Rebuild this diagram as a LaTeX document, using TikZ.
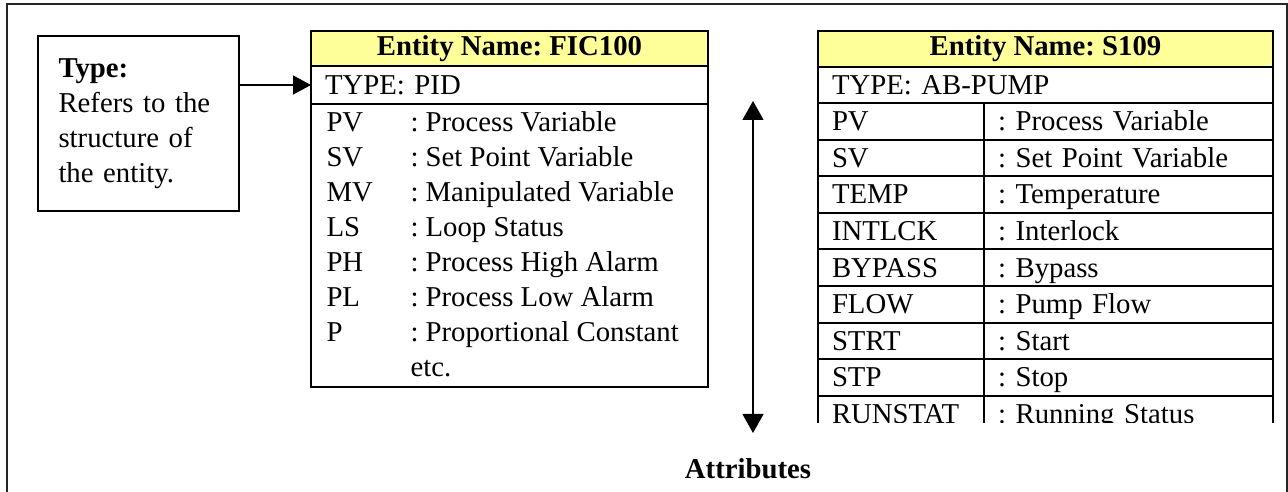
\documentclass[tikz,border=0pt]{standalone}
\usepackage{fontspec}
\setmainfont{Liberation Serif}
\usetikzlibrary{arrows.meta}
\definecolor{hdryellow}{RGB}{255,255,153}

\begin{document}
\frenchspacing
\begin{tikzpicture} [
                x=0.4pt, y=-0.4pt,
                every node/.style={font=\fontsize{11.5pt}{14pt}\selectfont},
                outerframe/.style={draw=black!85,line width=0.8pt},
                typebox/.style={draw,line width=0.6pt,anchor=north west,outer sep=0pt,
                    minimum width=80.4pt,minimum height=70pt,text width=64pt,align=left,inner xsep=8pt},
                header/.style={draw,line width=0.8pt,fill=hdryellow,anchor=north west,outer sep=0pt,
                    inner ysep=1pt,font=\fontsize{11.5pt}{14pt}\selectfont\bfseries},
                cell/.style={draw,line width=0.8pt,anchor=north west,outer sep=0pt,align=left,
                    inner xsep=5.6pt,inner ysep=0pt,text height=9pt,text depth=1.5pt},
                item/.style={anchor=base west,inner sep=0pt},
                link/.style={draw,line width=0.5pt,-{Triangle[length=7.2pt,width=7.6pt]}},
                span/.style={draw,line width=0.5pt,
                    {Triangle[length=7.6pt,width=8.4pt]}-{Triangle[length=7.6pt,width=8.4pt]}},
            ]
            \useasboundingbox (0,0) rectangle (1288,492);
            % outer frame, open at the bottom
            \draw[outerframe] (7,492) -- (7,4) -- (1287,4) -- (1287,492);

            % the type note
            \node[typebox] (typebox) at (38,36)
                {\textbf{Type:}\\Refers to the\\structure of\\the entity.};

            % entity FIC100
            \node[header,minimum width=158.8pt,minimum height=14pt] (fic hdr) at (311,31) {Entity Name: FIC100};
            \node[cell,minimum height=15.2pt,text width=147.6pt] (fic type) at (311,66) {TYPE: PID};
            \node[draw,line width=0.8pt,anchor=north west,outer sep=0pt,
                minimum width=158.8pt,minimum height=113.2pt] (fic body) at (311,104) {};
            \foreach \key/\desc [count=\k from 0] in {
                    PV/Process Variable,
                    SV/Set Point Variable,
                    MV/Manipulated Variable,
                    LS/Loop Status,
                    PH/Process High Alarm,
                    PL/Process Low Alarm,
                    P/Proportional Constant}
                {
                \node[item] (fic key \k) at (326,{132+35*\k}) {\key};
                \node[item] (fic desc \k) at (410,{132+35*\k}) {: \desc};
                }
            \node[item] (fic etc) at (410,377) {etc.};

            % entity S109, cut off at the bottom
            \begin{scope}
                \clip (800,0) rectangle (1288,423);
                \node[header,minimum width=182pt,minimum height=14.4pt] (s109 hdr) at (818,31) {Entity Name: S109};
                \node[cell,minimum height=14.4pt,text width=170.8pt] (s109 type) at (818,67) {TYPE: AB-PUMP};
                \foreach \key/\desc [count=\k from 0] in {
                        PV/Process Variable,
                        SV/Set Point Variable,
                        TEMP/Temperature,
                        INTLCK/Interlock,
                        BYPASS/Bypass,
                        FLOW/Pump Flow,
                        STRT/Start,
                        STP/Stop,
                        RUNSTAT/Running Status}
                    {
                    \node[cell,minimum height=14.64pt,text width=55.2pt] (s109 key \k) at (818,{103+36.6*\k}) {\key};
                    \node[cell,minimum height=14.64pt,text width=104.4pt] (s109 desc \k) at (984,{103+36.6*\k}) {: \desc};
                    }
            \end{scope}

            % connectors
            \path[link] (typebox.east |- fic type.west) -- (fic type.west);
            \coordinate (attr top) at (753,101);
            \coordinate (attr bot) at (753,433);
            \path[span] (attr top) -- (attr bot);
            \node (attr label) at (748,469) {\textbf{Attributes}};
        \end{tikzpicture}
\end{document}
